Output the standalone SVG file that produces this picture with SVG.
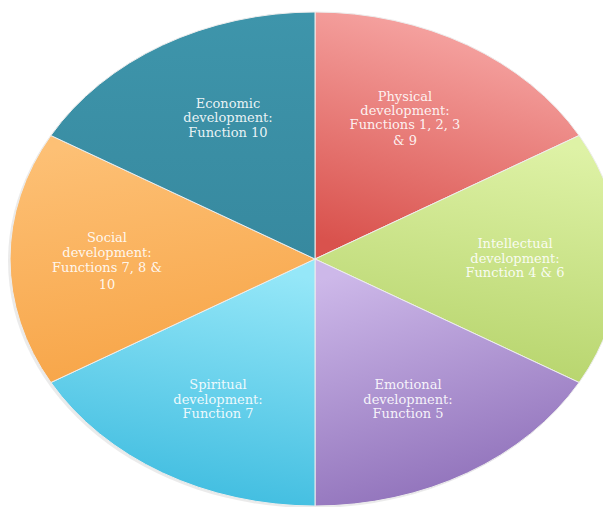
<svg xmlns="http://www.w3.org/2000/svg" width="603" height="507" viewBox="0 0 603 507">
<defs>
<linearGradient id="gPhys" x1="0.6" y1="0" x2="0.3" y2="1"><stop offset="0" stop-color="#F8AAA8"/><stop offset="1" stop-color="#D9524D"/></linearGradient>
<linearGradient id="gInt" x1="0.6" y1="0" x2="0.4" y2="1"><stop offset="0" stop-color="#DEF2A6"/><stop offset="1" stop-color="#B5D36A"/></linearGradient>
<linearGradient id="gEmo" x1="0.3" y1="0" x2="0.6" y2="1"><stop offset="0" stop-color="#CDB8E9"/><stop offset="1" stop-color="#8D6EB8"/></linearGradient>
<linearGradient id="gSpi" x1="0.6" y1="0" x2="0.4" y2="1"><stop offset="0" stop-color="#95E7F8"/><stop offset="1" stop-color="#3CBBDF"/></linearGradient>
<linearGradient id="gSoc" x1="0.4" y1="0" x2="0.6" y2="1"><stop offset="0" stop-color="#FDC075"/><stop offset="1" stop-color="#F7A446"/></linearGradient>
<linearGradient id="gEco" x1="0.5" y1="0" x2="0.5" y2="1"><stop offset="0" stop-color="#3E95AB"/><stop offset="1" stop-color="#37899F"/></linearGradient>
</defs>
<style>
.slice{stroke:#EDEDED;stroke-width:1;stroke-linejoin:round}
.lbl{font-family:"DejaVu Serif","Liberation Serif",serif;font-size:13px;fill:#FFFFFF;fill-opacity:0.9;text-anchor:middle}
</style>
<rect width="603" height="507" fill="#FFFFFF"/>
<ellipse cx="313" cy="261" rx="305" ry="247" fill="#000" fill-opacity="0.08"/>
<g id="physical">
<path class="slice" fill="url(#gPhys)" d="M315,259 L315,12 A305,247 0 0 1 579.1,135.5 Z"/>
<text class="lbl"><tspan x="405" y="101">Physical</tspan><tspan x="405" y="115">development:</tspan><tspan x="405" y="129">Functions 1, 2, 3</tspan><tspan x="405" y="145">&amp; 9</tspan></text>
</g>
<g id="intellectual">
<path class="slice" fill="url(#gInt)" d="M315,259 L579.1,135.5 A305,247 0 0 1 579.1,382.5 Z"/>
<text class="lbl"><tspan x="515" y="248">Intellectual</tspan><tspan x="515" y="263">development:</tspan><tspan x="515" y="277">Function 4 &amp; 6</tspan></text>
</g>
<g id="emotional">
<path class="slice" fill="url(#gEmo)" d="M315,259 L579.1,382.5 A305,247 0 0 1 315,506 Z"/>
<text class="lbl"><tspan x="408" y="389">Emotional</tspan><tspan x="408" y="404">development:</tspan><tspan x="408" y="418">Function 5</tspan></text>
</g>
<g id="spiritual">
<path class="slice" fill="url(#gSpi)" d="M315,259 L315,506 A305,247 0 0 1 50.9,382.5 Z"/>
<text class="lbl"><tspan x="218" y="389">Spiritual</tspan><tspan x="218" y="404">development:</tspan><tspan x="218" y="418">Function 7</tspan></text>
</g>
<g id="social">
<path class="slice" fill="url(#gSoc)" d="M315,259 L50.9,382.5 A305,247 0 0 1 50.9,135.5 Z"/>
<text class="lbl"><tspan x="107" y="242">Social</tspan><tspan x="107" y="257">development:</tspan><tspan x="107" y="272">Functions 7, 8 &amp;</tspan><tspan x="107" y="289">10</tspan></text>
</g>
<g id="economic">
<path class="slice" fill="url(#gEco)" d="M315,259 L50.9,135.5 A305,247 0 0 1 315,12 Z"/>
<text class="lbl"><tspan x="228" y="108">Economic</tspan><tspan x="228" y="122">development:</tspan><tspan x="228" y="137">Function 10</tspan></text>
</g>
<g id="connectors"/>
</svg>
